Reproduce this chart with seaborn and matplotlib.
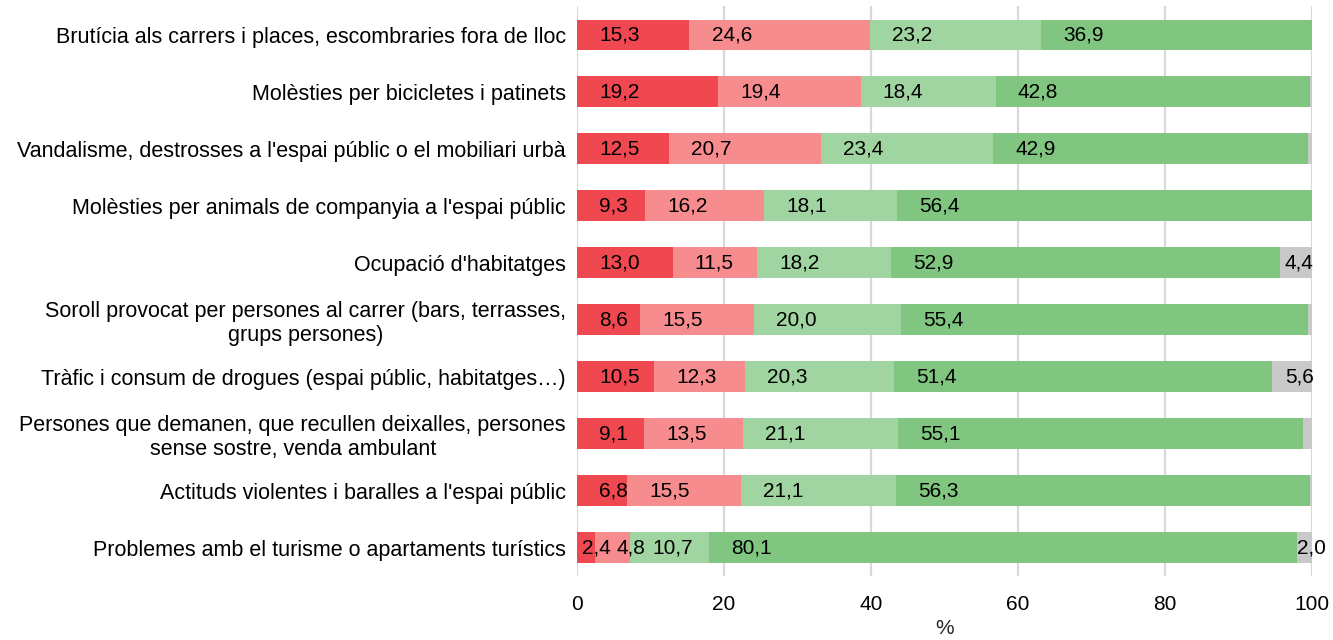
import matplotlib
matplotlib.use("Agg")
import matplotlib.pyplot as plt
import seaborn as sns
import pandas as pd

categories = [
    "Brutícia als carrers i places, escombraries fora de lloc",
    "Molèsties per bicicletes i patinets",
    "Vandalisme, destrosses a l'espai públic o el mobiliari urbà",
    "Molèsties per animals de companyia a l'espai públic",
    "Ocupació d'habitatges",
    "Soroll provocat per persones al carrer (bars, terrasses,\ngrups persones)",
    "Tràfic i consum de drogues (espai públic, habitatges…)",
    "Persones que demanen, que recullen deixalles, persones\nsense sostre, venda ambulant",
    "Actituds violentes i baralles a l'espai públic",
    "Problemes amb el turisme o apartaments turístics",
]
molt = [15.3, 19.2, 12.5, 9.3, 13.0, 8.6, 10.5, 9.1, 6.8, 2.4]
bastant = [24.6, 19.4, 20.7, 16.2, 11.5, 15.5, 12.3, 13.5, 15.5, 4.8]
poc = [23.2, 18.4, 23.4, 18.1, 18.2, 20.0, 20.3, 21.1, 21.1, 10.7]
gens = [36.9, 42.8, 42.9, 56.4, 52.9, 55.4, 51.4, 55.1, 56.3, 80.1]
nsnc = [0.0, 0.2, 0.5, 0.0, 4.4, 0.5, 5.6, 1.2, 0.3, 2.0]

series = ["Molt", "Bastant", "Poc", "Gens", "NS/NC"]
colors = ["#EF4850", "#F68C8E", "#A0D4A0", "#80C680", "#C9C9C9"]

df = pd.DataFrame({"cat": categories, "Molt": molt, "Bastant": bastant,
                   "Poc": poc, "Gens": gens, "NS/NC": nsnc})
cum = df[series].cumsum(axis=1)
cum["cat"] = df["cat"]

sns.set_theme(style="white")
plt.rcParams["font.family"] = ["Liberation Sans", "DejaVu Sans"]
plt.rcParams["text.color"] = "#000000"

fig = plt.figure(figsize=(13.33, 6.4), dpi=100)
ax = fig.add_axes([0.4329, 0.10, 0.5513, 0.89])

# Stacked bars: draw cumulative totals from the last series back to the first
for name, col in reversed(list(zip(series, colors))):
    sns.barplot(data=cum, x=name, y="cat", color=col, saturation=1,
                width=0.54, linewidth=0, ax=ax, orient="h")

# Value labels, anchored near the start of each segment
for i in range(len(categories)):
    for name in series:
        v = df.loc[i, name]
        start = cum.loc[i, name] - v
        if name == "NS/NC":
            if v < 2:
                continue
            off = max(0.0, v - 3.8)
        else:
            off = min(3.0, max(0.7, v - 1.7))
        ax.text(start + off, i, f"{v:.1f}".replace(".", ","),
                ha="left", va="center", fontsize=15, color="#000000")

ax.set_xlim(0, 100)
ax.set_ylim(len(categories) - 0.5, -0.5)
ax.set_xticks([0, 20, 40, 60, 80, 100])
ax.set_xlabel("%", fontsize=15, labelpad=3)
ax.set_ylabel("")
ax.tick_params(axis="x", length=0, pad=14, labelsize=15, colors="#000000")
ax.tick_params(axis="y", length=0, pad=8, labelsize=15.5, colors="#000000")
for lab in ax.get_yticklabels():
    lab.set_multialignment("center")

ax.set_axisbelow(True)
ax.grid(axis="x", color="#D9D9D9", linewidth=1.6)
ax.grid(axis="y", visible=False)
for s in ax.spines.values():
    s.set_visible(False)

fig.savefig("out.png", dpi=100)
